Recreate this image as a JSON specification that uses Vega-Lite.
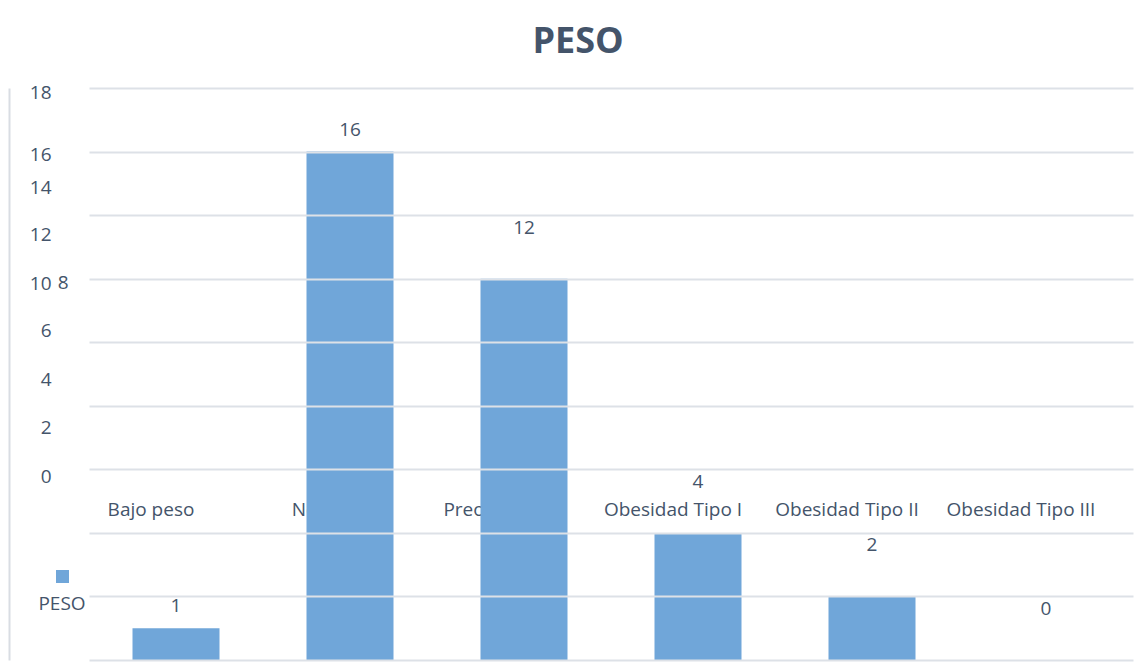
{
  "$schema": "https://vega.github.io/schema/vega-lite/v6.json",
  "autosize": {"type": "none"},
  "width": 1044,
  "height": 572,
  "padding": {"left": 89, "top": 88, "right": 4, "bottom": 10},
  "background": "#ffffff",
  "title": {
    "text": "PESO",
    "fontSize": 36,
    "fontWeight": "bold",
    "color": "#44546a",
    "font": "Open Sans",
    "anchor": "middle",
    "frame": "group",
    "baseline": "alphabetic",
    "offset": -6,
    "dx": -33
  },
  "data": {
    "values": [
      {"categoria": "Bajo peso", "n": 1, "serie": "PESO"},
      {"categoria": "Normal", "n": 16, "serie": "PESO"},
      {"categoria": "Preobesidad", "n": 12, "serie": "PESO"},
      {"categoria": "Obesidad Tipo I", "n": 4, "serie": "PESO"},
      {"categoria": "Obesidad Tipo II", "n": 2, "serie": "PESO"},
      {"categoria": "Obesidad Tipo III", "n": 0, "serie": "PESO"}
    ]
  },
  "encoding": {
    "x": {
      "field": "categoria",
      "type": "nominal",
      "sort": null,
      "scale": {"paddingInner": 0.5, "paddingOuter": 0.25},
      "axis": {
        "title": null,
        "orient": "bottom",
        "offset": -161,
        "domain": false,
        "ticks": false,
        "grid": false,
        "labelAngle": 0,
        "labelPadding": 1,
        "labelOffset": -25,
        "labelFontSize": 19,
        "labelColor": "#44546a",
        "labelFont": "Open Sans",
        "labelBaseline": "top",
        "zindex": 0
      }
    },
    "y": {
      "field": "n",
      "type": "quantitative",
      "scale": {"domain": [0, 18], "nice": false},
      "axis": {
        "title": null,
        "values": [0, 2, 4, 6, 8, 10, 12, 14, 16, 18],
        "offset": 80,
        "domain": true,
        "domainColor": "#d9dde3",
        "domainWidth": 2,
        "ticks": false,
        "grid": true,
        "gridColor": "#dde1e7",
        "gridWidth": 2,
        "labelAlign": "right",
        "labelPadding": {
          "condition": {"test": "datum.value == 8", "value": -59},
          "value": -42
        },
        "labelOffset": {
          "condition": [
            {"test": "datum.value == 0", "value": -184},
            {"test": "datum.value == 2", "value": -169},
            {"test": "datum.value == 4", "value": -153},
            {"test": "datum.value == 6", "value": -139},
            {"test": "datum.value == 8", "value": -123},
            {"test": "datum.value == 10", "value": -59},
            {"test": "datum.value == 12", "value": -44},
            {"test": "datum.value == 14", "value": -28},
            {"test": "datum.value == 16", "value": 3}
          ],
          "value": 4
        },
        "labelFontSize": 19,
        "labelColor": "#44546a",
        "labelFont": "Open Sans",
        "zindex": 1
      }
    }
  },
  "layer": [
    {
      "mark": {"type": "bar"},
      "encoding": {
        "color": {
          "field": "serie",
          "type": "nominal",
          "scale": {"range": ["#70a6d9"]},
          "legend": {
            "title": null,
            "orient": "none",
            "legendX": -36,
            "legendY": 506,
            "padding": 0,
            "symbolType": "M-1,-5.15H1V-3.15H-1Z",
            "symbolSize": 169,
            "symbolStrokeWidth": 0,
            "labelOffset": -10,
            "labelAlign": "center",
            "labelFontSize": 19,
            "labelColor": "#44546a",
            "labelFont": "Open Sans"
          }
        }
      }
    },
    {
      "transform": [{"filter": "datum.n == 1 || datum.n == 16"}],
      "mark": {
        "type": "text",
        "dy": -22,
        "fontSize": 19,
        "font": "Open Sans",
        "color": "#44546a",
        "baseline": "middle"
      },
      "encoding": {
        "text": {"field": "n", "type": "quantitative"}
      }
    },
    {
      "transform": [{"filter": "datum.n != 1 && datum.n != 16"}],
      "mark": {
        "type": "text",
        "dy": -51,
        "fontSize": 19,
        "font": "Open Sans",
        "color": "#44546a",
        "baseline": "middle"
      },
      "encoding": {
        "text": {"field": "n", "type": "quantitative"}
      }
    }
  ],
  "config": {
    "view": {"stroke": null}
  }
}
